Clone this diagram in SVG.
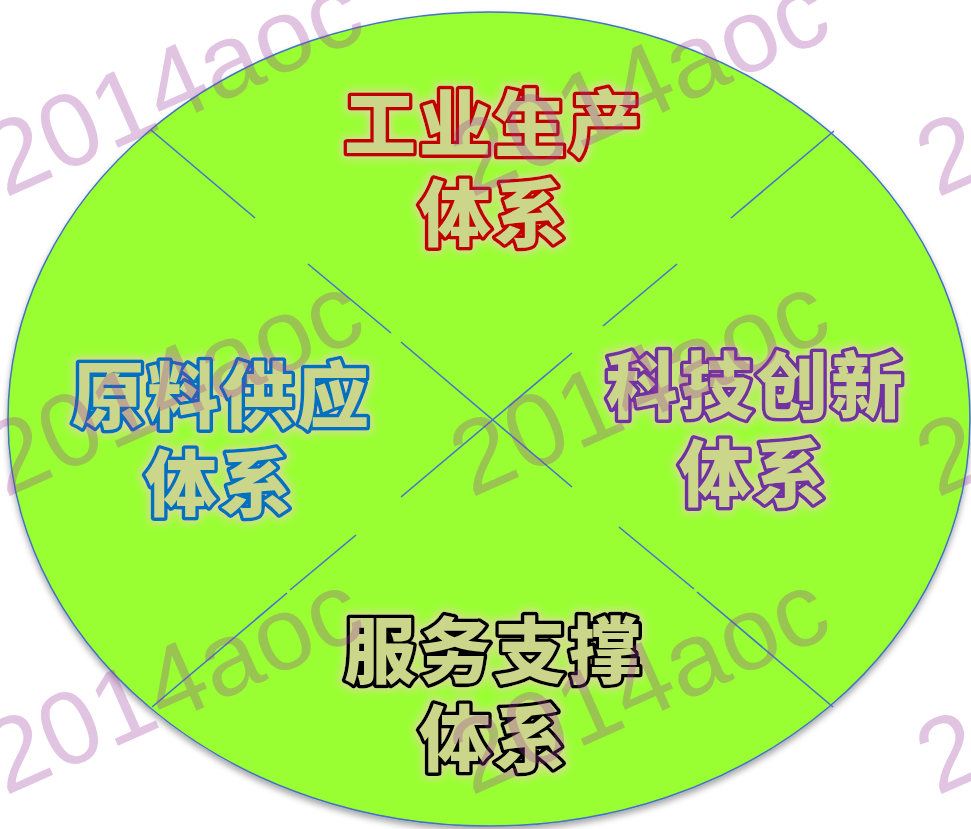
<svg xmlns="http://www.w3.org/2000/svg" width="971" height="829" viewBox="0 0 971 829">
<defs>
<filter id="shadow" x="-5%" y="-5%" width="110%" height="112%">
<feDropShadow dx="0" dy="4" stdDeviation="3" flood-color="#000" flood-opacity="0.35"/>
</filter>
<filter id="glow" x="-10%" y="-20%" width="120%" height="140%">
<feMorphology in="SourceAlpha" operator="dilate" radius="2" result="d"/>
<feGaussianBlur in="d" stdDeviation="4" result="b"/>
<feFlood flood-color="#E0D8A0" flood-opacity="0.95"/>
<feComposite in2="b" operator="in" result="g"/>
<feMerge><feMergeNode in="g"/><feMergeNode in="SourceGraphic"/></feMerge>
</filter>
</defs>
<style>
.lbl{font-family:"Noto Sans CJK SC","Noto Sans CJK JP",sans-serif;font-weight:900;font-size:72px;letter-spacing:3px;text-anchor:middle;fill:#CBD68A;stroke-width:7;stroke-linejoin:round;paint-order:stroke fill;filter:url(#glow)}
.red{stroke:#C00000}
.blue{stroke:#0070C0}
.purple{stroke:#7030A0}
.black{stroke:#000000}
.con line{stroke:#4A6FD0;stroke-width:1.6}
.wm{font-family:"Liberation Sans",Arial,sans-serif;font-size:104px;fill:#9B3A9B;fill-opacity:0.3}
</style>
<rect width="971" height="829" fill="#FFFFFF"/>
<g id="ellipse">
<ellipse cx="489" cy="419" rx="481" ry="407" fill="#99FF33" stroke="#4472C4" stroke-width="1.5" filter="url(#shadow)"/>
</g>
<g id="connectors" class="con">
<line x1="151" y1="130" x2="255" y2="218"/>
<line x1="308" y1="264" x2="391" y2="333"/>
<line x1="401" y1="342" x2="572" y2="487"/>
<line x1="619" y1="527" x2="694" y2="589"/>
<line x1="697" y1="592" x2="833" y2="707"/>
<line x1="834" y1="131" x2="731" y2="218"/>
<line x1="677" y1="264" x2="603" y2="326"/>
<line x1="572" y1="353" x2="401" y2="497"/>
<line x1="356" y1="535" x2="290" y2="590"/>
<line x1="287" y1="593" x2="152" y2="707"/>
</g>
<g id="node-industry">
<text class="lbl red"><tspan x="494" y="150">工业生产</tspan><tspan x="494" y="240">体系</tspan></text>
</g>
<g id="node-material">
<text class="lbl blue"><tspan x="222" y="422">原料供应</tspan><tspan x="220" y="510">体系</tspan></text>
</g>
<g id="node-tech">
<text class="lbl purple"><tspan x="756" y="412">科技创新</tspan><tspan x="754" y="500">体系</tspan></text>
</g>
<g id="node-service">
<text class="lbl black"><tspan x="494" y="677">服务支撑</tspan><tspan x="494" y="765">体系</tspan></text>
</g>
<g id="watermarks">
<text class="wm" transform="translate(5,198) rotate(-24)">2014aoc</text>
<text class="wm" transform="translate(471,198) rotate(-24)">2014aoc</text>
<text class="wm" transform="translate(937,198) rotate(-24)">2014aoc</text>
<text class="wm" transform="translate(5,498) rotate(-24)">2014aoc</text>
<text class="wm" transform="translate(471,498) rotate(-24)">2014aoc</text>
<text class="wm" transform="translate(937,498) rotate(-24)">2014aoc</text>
<text class="wm" transform="translate(5,796) rotate(-24)">2014aoc</text>
<text class="wm" transform="translate(471,796) rotate(-24)">2014aoc</text>
<text class="wm" transform="translate(937,796) rotate(-24)">2014aoc</text>
</g>
</svg>
